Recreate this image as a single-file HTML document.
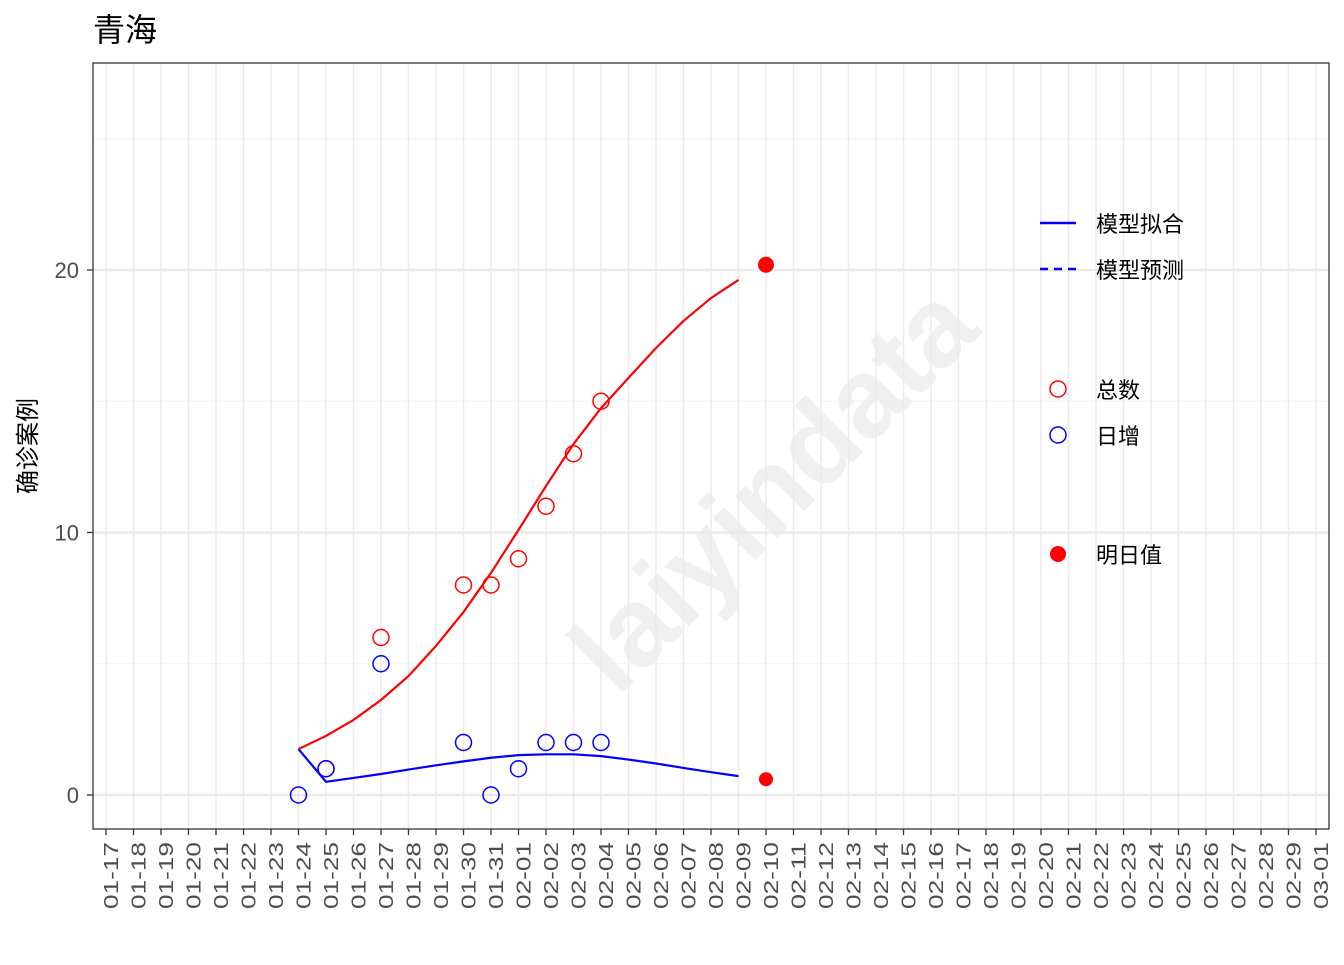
<!DOCTYPE html>
<html><head><meta charset="utf-8"><style>
body{margin:0;background:#fff;}
svg text{font-family:"Liberation Sans","Noto Sans CJK SC",sans-serif;}
</style></head><body>
<svg id="chart" width="1344" height="960" viewBox="0 0 1344 960">
<text x="93" y="41" font-size="32" fill="#000">青海</text>
<rect x="93" y="63" width="1236" height="766" fill="#fff" stroke="none"/>
<g id="grid"></g>
<text x="0" y="0" font-size="112" font-weight="bold" fill="#ebebeb" opacity="0.75" transform="translate(800,515) rotate(-45)" text-anchor="middle">laiyindata</text>
<g id="marks"></g>
<rect x="93" y="63" width="1236" height="766" fill="none" stroke="#333" stroke-width="1.3"/>
<g id="axes"></g>
<text transform="translate(36,446) rotate(-90)" font-size="24" text-anchor="middle" fill="#000">确诊案例</text>
<g>
<line x1="1040" y1="223" x2="1076" y2="223" stroke="#00f" stroke-width="2.5"/>
<text x="1096" y="232" font-size="22">模型拟合</text>
<line x1="1040" y1="269" x2="1076" y2="269" stroke="#00f" stroke-width="2.5" stroke-dasharray="8,6"/>
<text x="1096" y="278" font-size="22">模型预测</text>
<circle cx="1058" cy="389" r="8" fill="none" stroke="#f00" stroke-width="1.5"/>
<text x="1096" y="398" font-size="22">总数</text>
<circle cx="1058" cy="435" r="8" fill="none" stroke="#00f" stroke-width="1.5"/>
<text x="1096" y="444" font-size="22">日增</text>
<circle cx="1058" cy="554" r="8" fill="#f00"/>
<text x="1096" y="563" font-size="22">明日值</text>
</g>
</svg>
<script>
const dateLabels=["01-17","01-18","01-19","01-20","01-21","01-22","01-23","01-24","01-25","01-26","01-27","01-28","01-29","01-30","01-31","02-01","02-02","02-03","02-04","02-05","02-06","02-07","02-08","02-09","02-10","02-11","02-12","02-13","02-14","02-15","02-16","02-17","02-18","02-19","02-20","02-21","02-22","02-23","02-24","02-25","02-26","02-27","02-28","02-29","03-01"];
const yTicks=[0,10,20];
const yMinor=[5,15,25];
const totalDates=["01-25","01-27","01-30","01-31","02-01","02-02","02-03","02-04"];
const totalVals=[1,6,8,8,9,11,13,15];
const dailyDates=["01-24","01-25","01-27","01-30","01-31","02-01","02-02","02-03","02-04"];
const dailyVals=[0,1,5,2,0,1,2,2,2];
const fitDates=["01-24","01-25","01-26","01-27","01-28","01-29","01-30","01-31","02-01","02-02","02-03","02-04","02-05","02-06","02-07","02-08","02-09"];
const fitTotal=[1.75,2.25,2.86,3.62,4.53,5.68,6.97,8.46,10.1,11.77,13.37,14.74,15.89,17.03,18.06,18.93,19.62];
const fitDaily=[1.75,0.5,0.65,0.8,0.97,1.13,1.28,1.42,1.52,1.55,1.55,1.48,1.35,1.2,1.03,0.87,0.72];
const predDate="02-10";
const predTotal=20.2;
const predDaily=0.6;

const NS="http://www.w3.org/2000/svg";
const X=d=>106+dateLabels.indexOf(d)*27.5;
const Y=v=>795-v*26.25;
function mk(tag,attrs,parent){const e=document.createElementNS(NS,tag);for(const k in attrs)e.setAttribute(k,attrs[k]);parent.appendChild(e);return e;}
const grid=document.getElementById('grid'),marks=document.getElementById('marks'),axes=document.getElementById('axes');
yMinor.forEach(v=>{const l=mk('line',{x1:93,x2:1329,y1:Y(v),y2:Y(v),stroke:'#f2f2f2','stroke-width':1},grid);

});
dateLabels.forEach(d=>{const l=mk('line',{x1:X(d),x2:X(d),y1:63,y2:829,stroke:'#ebebeb','stroke-width':1.5},grid);


const t=mk('line',{x1:X(d),x2:X(d),y1:829,y2:835,stroke:'#333','stroke-width':1.3},axes);


const tx=mk('text',{transform:`translate(${X(d)+12},842) rotate(-90)`,'font-size':20,fill:'#4d4d4d','text-anchor':'end',textLength:67,lengthAdjust:'spacingAndGlyphs'},axes);
tx.textContent=d;

});
yTicks.forEach(v=>{const l=mk('line',{x1:93,x2:1329,y1:Y(v),y2:Y(v),stroke:'#ebebeb','stroke-width':2.5},grid);


const t=mk('line',{x1:87,x2:93,y1:Y(v),y2:Y(v),stroke:'#333','stroke-width':1.3},axes);


const tx=mk('text',{x:79,y:Y(v)+8,'font-size':22,fill:'#4d4d4d','text-anchor':'end'},axes);
tx.textContent=v;

});
const pts=(ds,vs)=>ds.map((d,i)=>X(d)+','+Y(vs[i])).join(' ');
const lt=mk('polyline',{points:pts(fitDates,fitTotal),fill:'none',stroke:'#f00','stroke-width':2.2},marks);


const ld=mk('polyline',{points:pts(fitDates,fitDaily),fill:'none',stroke:'#00f','stroke-width':2.2},marks);


totalDates.forEach((d,i)=>{const c=mk('circle',{cx:X(d),cy:Y(totalVals[i]),r:8,fill:'none',stroke:'#f00','stroke-width':1.5},marks);

});
dailyDates.forEach((d,i)=>{const c=mk('circle',{cx:X(d),cy:Y(dailyVals[i]),r:8,fill:'none',stroke:'#00f','stroke-width':1.5},marks);

});
const p1=mk('circle',{cx:X(predDate),cy:Y(predTotal),r:8,fill:'#f00'},marks);


const p2=mk('circle',{cx:X(predDate),cy:Y(predDaily),r:7,fill:'#f00'},marks);


</script>
</body></html>
